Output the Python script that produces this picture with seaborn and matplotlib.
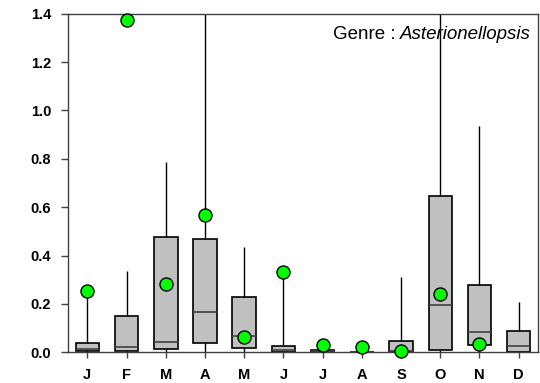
import numpy as np
import pandas as pd
import matplotlib
matplotlib.use("Agg")
import matplotlib.pyplot as plt
import seaborn as sns

# Monthly abundance summaries for Asterionellopsis
months = ["Jan", "Feb", "Mar", "Apr", "May", "Jun",
          "Jul", "Aug", "Sep", "Oct", "Nov", "Dec"]
month_labels = ["J", "F", "M", "A", "M", "J", "J", "A", "S", "O", "N", "D"]

whisker_low = [0.0, 0.0, 0.0, 0.0, 0.0, 0.0, 0.0, 0.0, 0.0, 0.0, 0.0, 0.0]
q1 = [0.004, 0.007, 0.014, 0.040, 0.016, 0.003, 0.001, 0.0005, 0.002, 0.008, 0.030, 0.002]
median = [0.015, 0.022, 0.041, 0.167, 0.067, 0.010, 0.004, 0.0015, 0.006, 0.196, 0.084, 0.027]
q3 = [0.040, 0.149, 0.478, 0.468, 0.229, 0.025, 0.008, 0.003, 0.048, 0.646, 0.280, 0.089]
whisker_high = [0.24, 0.336, 0.788, 1.65, 0.437, 0.33, 0.010, 0.004, 0.310, 1.85, 0.935, 0.207]
mean = [0.253, 1.375, 0.281, 0.566, 0.063, 0.332, 0.030, 0.022, 0.005, 0.242, 0.033, None]

y_ticks = [0.0, 0.2, 0.4, 0.6, 0.8, 1.0, 1.2, 1.4]

# Five-number summaries expanded to long form so the box statistics
# (quartiles + min/max whiskers) are reproduced exactly.
rows = []
for m, lo, a, md, b, hi in zip(months, whisker_low, q1, median, q3, whisker_high):
    for v in (lo, a, md, b, hi):
        rows.append({"month": m, "value": v})
box_df = pd.DataFrame(rows)

mean_df = pd.DataFrame({"month": months, "mean": mean}).dropna()

sns.set_theme(style="white")
plt.rcParams["font.family"] = ["Liberation Sans", "DejaVu Sans"]

fig = plt.figure(figsize=(5.40, 3.83), dpi=100)
ax = fig.add_axes([0.1254, 0.0802, 0.8715, 0.884])

sns.boxplot(data=box_df, x="month", y="value", order=months, whis=(0, 100),
            width=0.6, color="#c0c0c0", saturation=1, linecolor="black",
            linewidth=1.2, showcaps=False,
            medianprops={"color": "#404040", "linewidth": 1.2},
            whiskerprops={"color": "black", "linewidth": 1.0},
            ax=ax)

sns.stripplot(data=mean_df, x="month", y="mean", order=months, jitter=False,
              color="#00ff00", edgecolor="black", linewidth=1.0, size=9.4,
              zorder=5, clip_on=False, ax=ax)

ax.set_xlim(-0.5, 11.5)
ax.set_ylim(0, 1.4)
ax.set_yticks(y_ticks)
ax.set_yticklabels([f"{t:.1f}" for t in y_ticks])
ax.set_xticks(range(len(months)))
ax.set_xticklabels(month_labels)
ax.set_xlabel("")
ax.set_ylabel("")

for spine in ax.spines.values():
    spine.set_color("#404040")
    spine.set_linewidth(1.0)

ax.tick_params(axis="y", which="major", direction="out", length=5, width=1,
               color="#404040", pad=7, labelsize=10.5, left=True)
ax.tick_params(axis="x", which="major", direction="out", length=4.5, width=1,
               color="#404040", pad=7, labelsize=10.5, bottom=True)
for lbl in ax.get_xticklabels() + ax.get_yticklabels():
    lbl.set_fontweight("bold")
    lbl.set_color("black")

# Genus label in the upper-right corner, genus name in italics
renderer = fig.canvas.get_renderer()
genus = ax.text(0.985, 0.94, "Asterionellopsis", transform=ax.transAxes,
                ha="right", va="center", fontsize=13.5, fontstyle="italic",
                color="black")
bb = genus.get_window_extent(renderer=renderer)
x_left = ax.transAxes.inverted().transform((bb.x0, bb.y0))[0]
ax.text(x_left, 0.94, "Genre : ", transform=ax.transAxes,
        ha="right", va="center", fontsize=13.5, color="black")

fig.savefig("out.png", dpi=100)
